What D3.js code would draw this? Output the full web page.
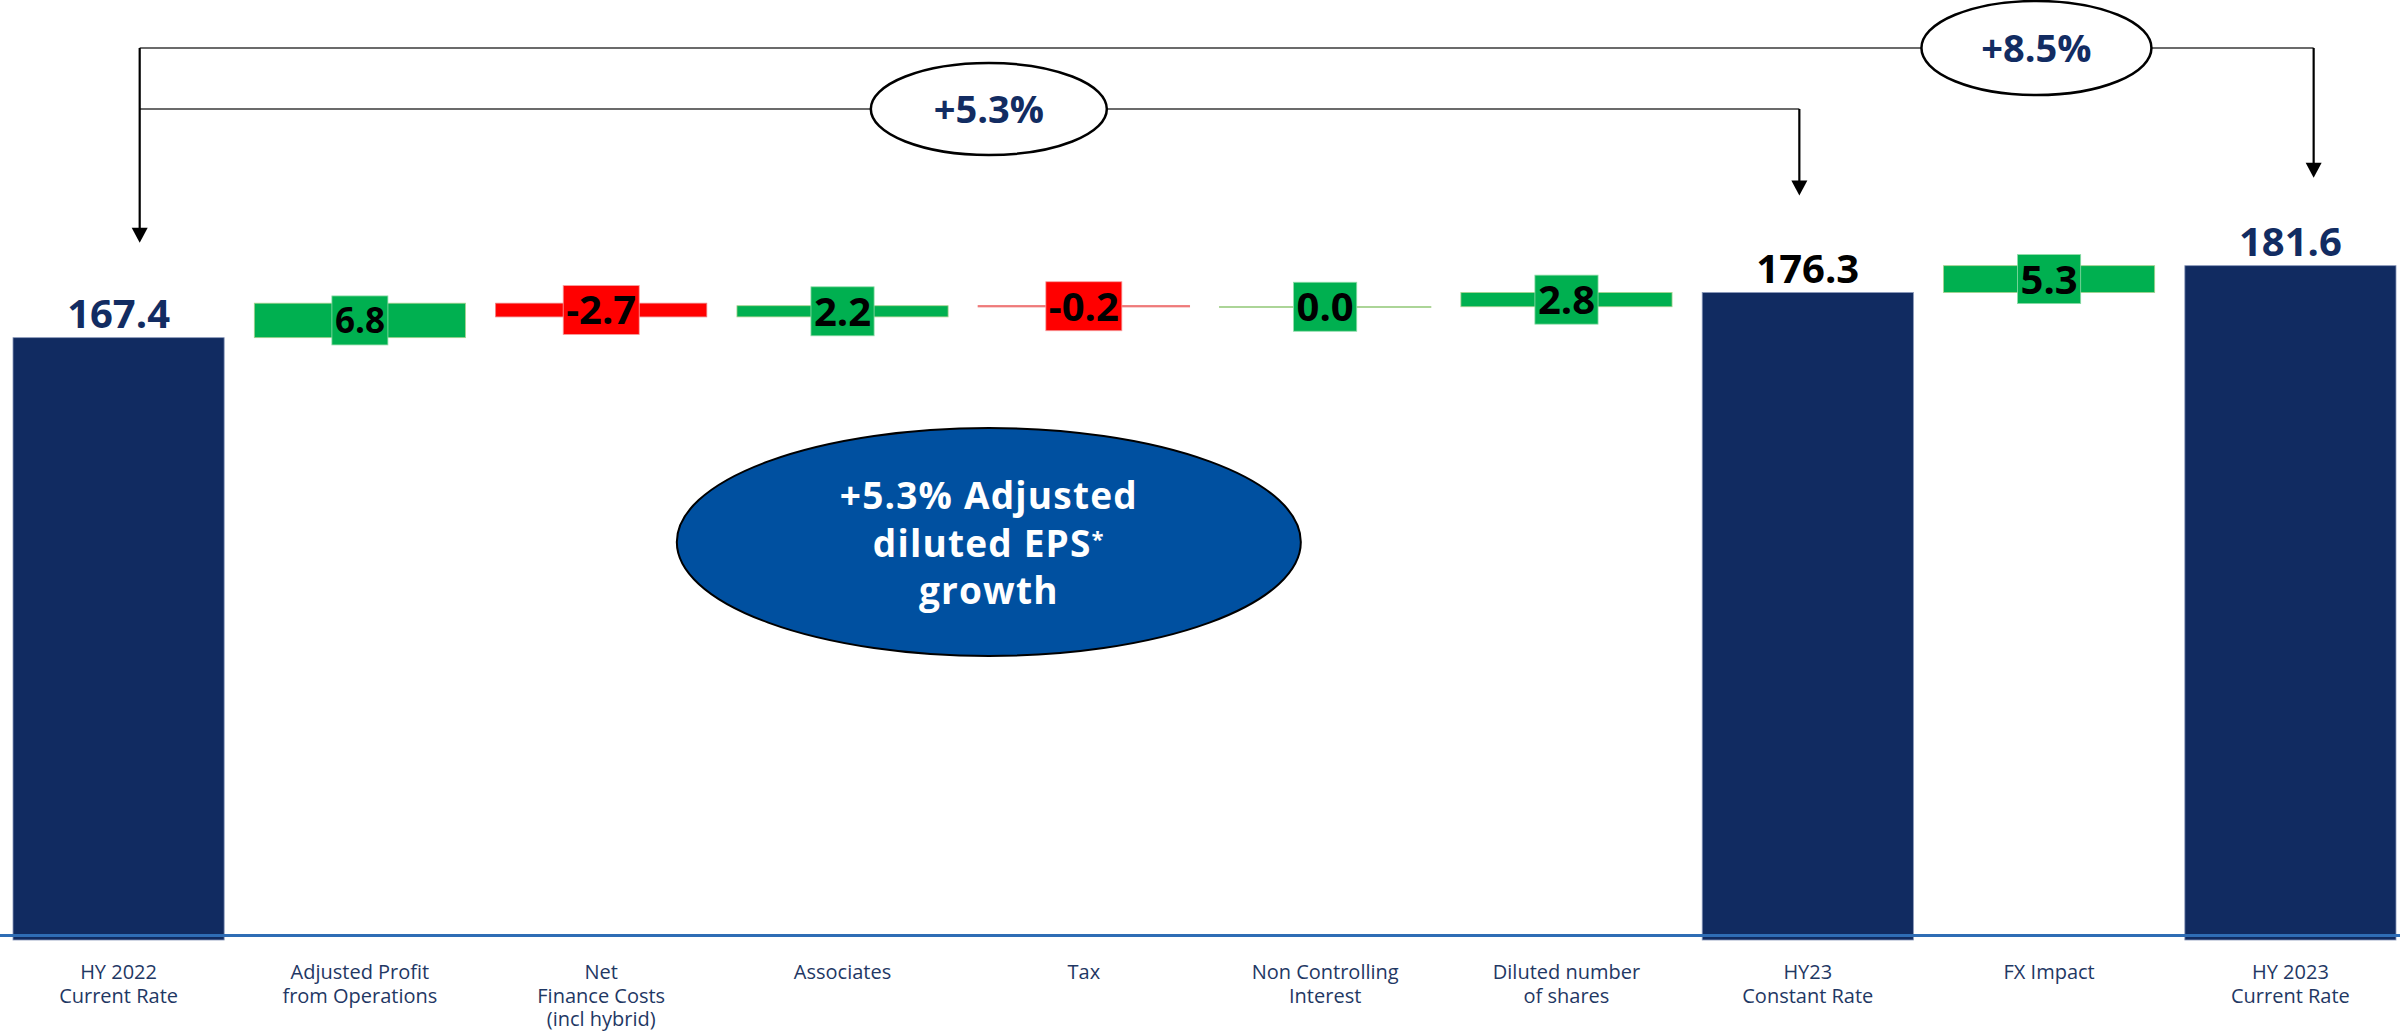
<!DOCTYPE html>
<html>
<head>
<meta charset="utf-8">
<script src="https://cdn.jsdelivr.net/npm/d3@7"></script>
<style>
  body { margin: 0; background: #fff; }
  svg { display: block; font-family: "Open Sans", sans-serif; }
</style>
</head>
<body>
<svg class="chart"></svg>
<script>
// categories, one array of lines per label
var categories = [
  ["HY 2022", "Current Rate"],
  ["Adjusted Profit", "from Operations"],
  ["Net", "Finance Costs", "(incl hybrid)"],
  ["Associates"],
  ["Tax"],
  ["Non Controlling", "Interest"],
  ["Diluted number", "of shares"],
  ["HY23", "Constant Rate"],
  ["FX Impact"],
  ["HY 2023", "Current Rate"]
];
var values = [167.4, 6.8, -2.7, 2.2, -0.2, 0.0, 2.8, 176.3, 5.3, 181.6];
var isTotal = [true, false, false, false, false, false, false, true, false, true];
var totalLabelColors = ["#122c62", null, null, null, null, null, null, "#000000", null, "#122c62"];

var growthLabels = ["+8.5%", "+5.3%"];
var calloutLines = ["+5.3% Adjusted", "diluted EPS", "growth"];

var width = 2407, height = 1033;

var svg = d3.select(".chart")
    .attr("width", width)
    .attr("height", height);

var x = d3.scaleBand()
    .domain(d3.range(categories.length))
    .range([13, 2396])
    .paddingInner(0.125)
    .paddingOuter(0);

var y = d3.scaleLinear().domain([48.6, 234]).range([940, 0]);

// running totals for the waterfall
var data = [];
var run = 0;
values.forEach(function(v, i) {
  if (isTotal[i]) {
    data.push({i: i, v: v, start: y.domain()[0], end: v, total: true});
    run = v;
  } else {
    data.push({i: i, v: v, start: run, end: run + v, total: false});
    run = run + v;
  }
});

var green = "#00b050", red = "#ff0000";

// total bars
svg.selectAll("rect.total")
  .data(data.filter(d => d.total))
  .enter().append("rect")
    .attr("class", "total")
    .attr("x", d => x(d.i))
    .attr("width", x.bandwidth())
    .attr("y", d => y(d.end))
    .attr("height", d => y(d.start) - y(d.end))
    .attr("fill", "#112b61")
    .attr("stroke", "#8796b8")
    .attr("stroke-width", 0.8);

// delta bars
var deltas = data.filter(d => !d.total);
svg.selectAll("rect.delta")
  .data(deltas)
  .enter().append("rect")
    .attr("class", "delta")
    .attr("x", d => x(d.i))
    .attr("width", x.bandwidth())
    .attr("y", d => Math.min(y(d.start), y(d.end)))
    .attr("height", d => Math.max(Math.abs(y(d.start) - y(d.end)), 0.5))
    .attr("fill", d => d.v < 0 ? red : green)
    .attr("stroke", d => d.v < 0 ? "#ee7a7a" : "#a9d18e")
    .attr("stroke-width", d => Math.abs(d.v) < 0.5 ? 1.2 : 0.8);

// axis line
svg.append("line")
    .attr("x1", 0).attr("x2", 2400)
    .attr("y1", y.range()[0] - 4.5).attr("y2", y.range()[0] - 4.5)
    .attr("stroke", "#2f6db5")
    .attr("stroke-width", 3);

// delta labels with coloured boxes
var dl = svg.selectAll("g.dlabel")
  .data(deltas)
  .enter().append("g")
    .attr("class", "dlabel")
    .attr("transform", d => "translate(" + (x(d.i) + x.bandwidth() / 2) + "," + ((y(d.start) + y(d.end)) / 2) + ")");

dl.append("rect")
    .attr("fill", d => d.v < 0 ? red : green)
    .attr("stroke", d => d.v < 0 ? "#f7a0a0" : "#8fdca8")
    .attr("stroke-width", 0.8);

dl.append("text")
    .attr("text-anchor", "middle")
    .attr("dy", "0.36em")
    .attr("font-size", d => d.i === 1 ? 35 : 40)
    .attr("font-weight", 700)
    .attr("fill", "#000")
    .text(d => d.v.toFixed(1));

dl.each(function() {
  var g = d3.select(this);
  var w = g.select("text").node().getComputedTextLength();
  g.select("rect")
    .attr("x", -w / 2 - 3)
    .attr("width", w + 6)
    .attr("y", -24.5)
    .attr("height", 49);
});

// total labels
svg.selectAll("text.tlabel")
  .data(data.filter(d => d.total))
  .enter().append("text")
    .attr("class", "tlabel")
    .attr("x", d => x(d.i) + x.bandwidth() / 2)
    .attr("y", d => y(d.end) - 10)
    .attr("text-anchor", "middle")
    .attr("font-size", 40)
    .attr("font-weight", 700)
    .attr("fill", d => totalLabelColors[d.i])
    .text(d => d.v.toFixed(1));

// category labels
var cl = svg.selectAll("text.cat")
  .data(categories)
  .enter().append("text")
    .attr("class", "cat")
    .attr("text-anchor", "middle")
    .attr("font-size", 20)
    .attr("fill", "#1f3864")
    .attr("x", (d, i) => x(i) + x.bandwidth() / 2)
    .attr("y", 979);

cl.selectAll("tspan")
  .data(d => d)
  .enter().append("tspan")
    .attr("x", function() { return d3.select(this.parentNode).attr("x"); })
    .attr("dy", (d, i) => i === 0 ? 0 : 23.5)
    .text(d => d);

// growth brackets
var brackets = [
  {from: 0, to: 9, level: 48, toPos: 0.61, label: growthLabels[0], at: 8, atPos: 0.44, rx: 115, ry: 47, gap: 88},
  {from: 0, to: 7, level: 109, toPos: 0.46, label: growthLabels[1], at: 4, atPos: 0.05, rx: 118, ry: 46, gap: 97}
];
var leftX = x(0) + x.bandwidth() * 0.6;

brackets.forEach(function(b) {
  var rightX = x(b.to) + x.bandwidth() * b.toPos;
  svg.append("line")
      .attr("x1", leftX).attr("x2", rightX)
      .attr("y1", b.level).attr("y2", b.level)
      .attr("stroke", "#3a3a3a")
      .attr("stroke-width", 1.6);
  var tip = y(values[b.to]) - b.gap;
  svg.append("line")
      .attr("x1", rightX).attr("x2", rightX)
      .attr("y1", b.level).attr("y2", tip - 14)
      .attr("stroke", "#000")
      .attr("stroke-width", 2.2);
  svg.append("path")
      .attr("d", "M" + (rightX - 8) + "," + (tip - 15) + "L" + (rightX + 8) + "," + (tip - 15) + "L" + rightX + "," + tip + "Z")
      .attr("fill", "#000");
  var cx = x(b.at) + x.bandwidth() * b.atPos;
  svg.append("ellipse")
      .attr("cx", cx).attr("cy", b.level)
      .attr("rx", b.rx).attr("ry", b.ry)
      .attr("fill", "#fff")
      .attr("stroke", "#000")
      .attr("stroke-width", 2.5);
  svg.append("text")
      .attr("x", cx).attr("y", b.level)
      .attr("dy", "0.36em")
      .attr("text-anchor", "middle")
      .attr("font-size", 38)
      .attr("font-weight", 700)
      .attr("fill", "#122c62")
      .text(b.label);
});

// left arrow, down to first bar
var leftTip = y(values[0]) - 95;
svg.append("line")
    .attr("x1", leftX).attr("x2", leftX)
    .attr("y1", brackets[0].level).attr("y2", leftTip - 14)
    .attr("stroke", "#000")
    .attr("stroke-width", 2.2);
svg.append("path")
    .attr("d", "M" + (leftX - 8) + "," + (leftTip - 15) + "L" + (leftX + 8) + "," + (leftTip - 15) + "L" + leftX + "," + leftTip + "Z")
    .attr("fill", "#000");

// callout ellipse
var cx0 = x(4) + x.bandwidth() * 0.05;
svg.append("ellipse")
    .attr("cx", cx0).attr("cy", 542)
    .attr("rx", 312).attr("ry", 114)
    .attr("fill", "#0050a0")
    .attr("stroke", "#000")
    .attr("stroke-width", 2);

// one text per line so the lines stay separate
calloutLines.forEach(function(t, i) {
  var ct = svg.append("text")
      .attr("x", cx0)
      .attr("y", 496 + i * 47.5)
      .attr("dy", "0.36em")
      .attr("text-anchor", "middle")
      .attr("font-size", 37)
      .attr("font-weight", 700)
      .attr("letter-spacing", 1.2)
      .attr("fill", "#fff")
      .text(t);
  if (i === 1) {
    ct.append("tspan")
        .attr("font-size", 22)
        .attr("dy", "-0.45em")
        .text("*");
  }
});
</script>
</body>
</html>
